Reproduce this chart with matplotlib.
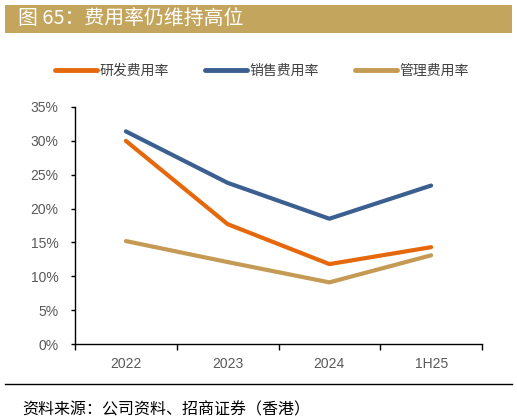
import matplotlib
matplotlib.use("Agg")
import matplotlib.pyplot as plt
from matplotlib.patches import Rectangle
from matplotlib.lines import Line2D
from matplotlib.ticker import FuncFormatter

plt.rcParams['font.family'] = ['Liberation Sans', 'Noto Sans CJK SC', 'DejaVu Sans']

categories = ["2022", "2023", "2024", "1H25"]
rd_rate = [30.0, 17.7, 11.8, 14.3]
sales_rate = [31.4, 23.8, 18.5, 23.4]
admin_rate = [15.2, 12.1, 9.1, 13.1]
series_names = ["研发费用率", "销售费用率", "管理费用率"]
y_ticks = [0, 5, 10, 15, 20, 25, 30, 35]

colors = ["#E6680C", "#3A5F90", "#C49A55"]
title_color = "#C4A55E"
tick_color = "#595959"

W, H = 517, 420
fig = plt.figure(figsize=(W / 100, H / 100), dpi=100)

# title bar
fig.patches.append(Rectangle((5 / W, 1 - 33 / H), 507 / W, 28 / H,
                             transform=fig.transFigure, facecolor=title_color,
                             edgecolor="none"))
fig.text(18 / W, 1 - 19 / H, "图 65：费用率仍维持高位", color="white",
         fontsize=14.3, va="center", ha="left",
         family=['Noto Sans CJK SC', 'DejaVu Sans'])

ax = fig.add_axes([75 / W, 1 - 344 / H, (482 - 75) / W, (344 - 107) / H])
x = list(range(len(categories)))
for vals, c in zip([rd_rate, sales_rate, admin_rate], colors):
    ax.plot(x, vals, color=c, lw=3.0, solid_capstyle="round",
            solid_joinstyle="round")

ax.set_xlim(-0.5, len(categories) - 0.5)
ax.set_ylim(0, 35)
ax.set_yticks(y_ticks)
ax.yaxis.set_major_formatter(FuncFormatter(lambda v, p: f"{v:.0f}%"))
ax.set_xticks([i - 0.5 for i in range(len(categories) + 1)])
ax.set_xticklabels([])
ax.set_xticks(x, minor=True)
ax.set_xticklabels(categories, minor=True)
ax.tick_params(axis="x", which="major", direction="out", length=4, width=1,
               color="black")
ax.tick_params(axis="x", which="minor", length=0, pad=9, labelsize=10,
               labelcolor=tick_color)
ax.tick_params(axis="y", direction="out", length=3, width=1, color="black",
               labelsize=10, labelcolor=tick_color, pad=9)
for s in ["top", "right"]:
    ax.spines[s].set_visible(False)
for s in ["left", "bottom"]:
    ax.spines[s].set_color("black")
    ax.spines[s].set_linewidth(1.0)

handles = [Line2D([0], [0], color=c, lw=3.5, solid_capstyle="round") for c in colors]
fig.legend(handles, series_names, loc="center", bbox_to_anchor=(262 / W, 1 - 71 / H),
           ncol=3, frameon=False, handlelength=3.0, handletextpad=0.2,
           columnspacing=2.6, prop={"family": ['Noto Sans CJK SC'], "size": 10},
           labelcolor="#404040")

# source line and text
fig.add_artist(Line2D([5 / W, 512 / W], [1 - 384 / H, 1 - 384 / H],
                      transform=fig.transFigure, color="black", lw=1.0))
fig.text(22 / W, 1 - 410 / H, "资料来源：公司资料、招商证券（香港）", fontsize=11.5,
         va="center", ha="left", style="italic", color="black",
         family=['Noto Sans CJK SC', 'DejaVu Sans'])

fig.savefig("out.png", dpi=100)
